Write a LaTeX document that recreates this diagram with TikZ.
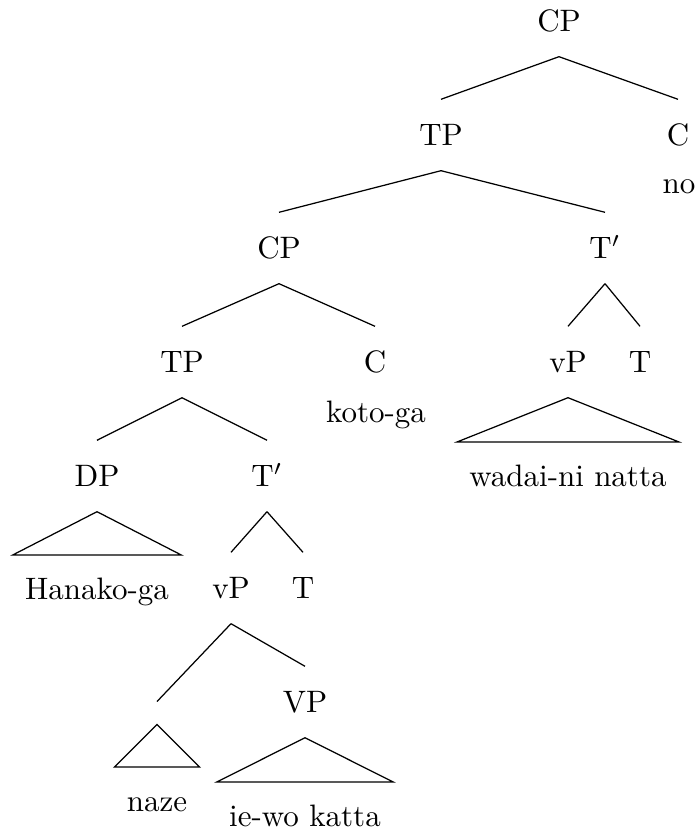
\documentclass[tikz,border=0pt]{standalone}
\begin{document}
\begin{tikzpicture}[x=0.3226pt, y=-0.3226pt,
    cat/.style={inner xsep=2pt, inner ysep=7.9pt, text height=6.83pt, text depth=0pt},
    word/.style={anchor=north, inner xsep=3.8pt, inner ysep=7pt, text height=7pt, text depth=2pt},
    hole/.style={inner sep=0pt, minimum size=7pt},
    gloss/.style={anchor=base, inner sep=0pt}]
      \useasboundingbox (0,0) rectangle (697,832);
      \node[cat] (CPmatrix) at (559,21) {CP};
      \node[cat] (TPmatrix) at (441,135) {TP};
      \node[cat] (Cmatrix) at (678,135) {C};
      \node[gloss] (noWord) at (679,194) {no};
      \node[cat] (CPembed) at (279,248) {CP};
      \node[cat] (TbarMatrix) at (605,248) {T$'$};
      \node[cat] (TPembed) at (182,362) {TP};
      \node[cat] (Cembed) at (375,362) {C};
      \node[gloss] (kotoWord) at (376,422) {koto-ga};
      \node[cat] (vPmatrix) at (568,362) {vP};
      \node[cat] (Tmatrix) at (640,362) {T};
      \node[word] (wadaiWord) at (568,442) {wadai-ni natta};
      \node[cat] (DPsubj) at (97,476) {DP};
      \node[cat] (TbarEmbed) at (267,476) {T$'$};
      \node[word] (HanakoWord) at (97,555) {Hanako-ga};
      \node[cat] (vPembed) at (231,588) {vP};
      \node[cat] (Tembed) at (303,588) {T};
      \node[hole] (advSlot) at (157,713) {};
      \node[cat] (VPembed) at (305,702) {VP};
      \node[word] (nazeWord) at (157,767) {naze};
      \node[word] (kattaWord) at (305,782) {ie-wo katta};
      \draw (CPmatrix.south) -- (TPmatrix.north);
      \draw (CPmatrix.south) -- (Cmatrix.north);
      \draw (TPmatrix.south) -- (CPembed.north);
      \draw (TPmatrix.south) -- (TbarMatrix.north);
      \draw (CPembed.south) -- (TPembed.north);
      \draw (CPembed.south) -- (Cembed.north);
      \draw (TbarMatrix.south) -- (vPmatrix.north);
      \draw (TbarMatrix.south) -- (Tmatrix.north);
      \draw (TPembed.south) -- (DPsubj.north);
      \draw (TPembed.south) -- (TbarEmbed.north);
      \draw (TbarEmbed.south) -- (vPembed.north);
      \draw (TbarEmbed.south) -- (Tembed.north);
      \draw (vPembed.south) -- (advSlot.north);
      \draw (vPembed.south) -- (VPembed.north);
      \draw (vPmatrix.south) -- (wadaiWord.north east) -- (wadaiWord.north west) -- cycle;
      \draw (DPsubj.south) -- (HanakoWord.north east) -- (HanakoWord.north west) -- cycle;
      \draw (advSlot.south) -- (nazeWord.north east) -- (nazeWord.north west) -- cycle;
      \draw (VPembed.south) -- (kattaWord.north east) -- (kattaWord.north west) -- cycle;
    \end{tikzpicture}
\end{document}
